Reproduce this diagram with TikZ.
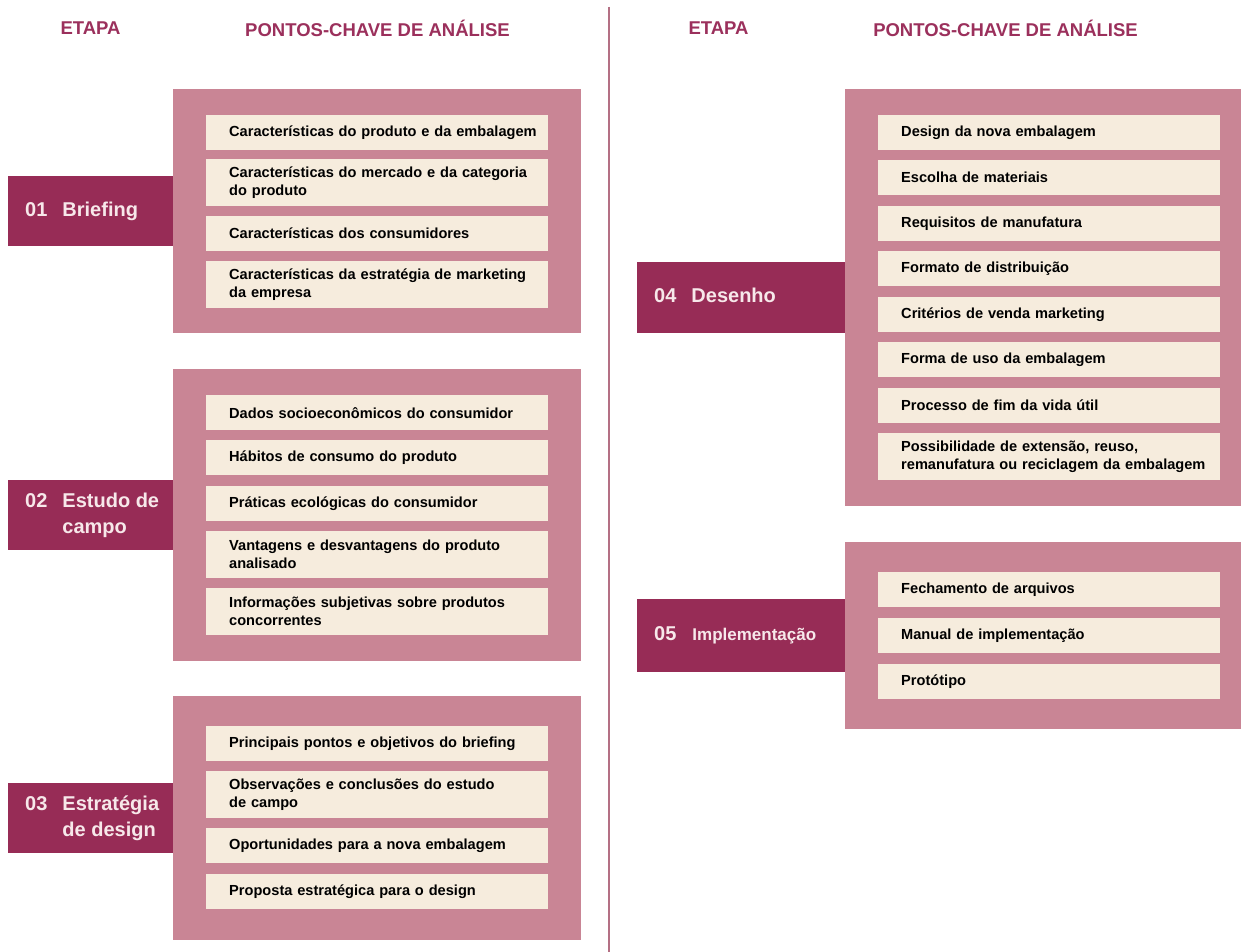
\documentclass[tikz,border=0pt]{standalone}
\usepackage{fontspec}
\setmainfont{Liberation Sans}
\usetikzlibrary{positioning}
\definecolor{vinho}{RGB}{151,44,86}
\definecolor{rosa}{RGB}{201,133,149}
\definecolor{creme}{RGB}{246,236,221}
\definecolor{titulo}{RGB}{155,48,92}
\definecolor{linha}{RGB}{180,112,132}
\definecolor{claro}{RGB}{247,232,234}
\newcommand{\itemfont}{\fontsize{14.6}{18}\selectfont\bfseries}
\newcommand{\etapafont}{\fontsize{20}{26}\selectfont\bfseries}
\tikzset{
  header/.style={text=titulo, font=\fontsize{18.5}{22}\selectfont\bfseries, inner sep=0pt},
  painel/.style={fill=rosa, inner sep=0pt, anchor=north west},
  etapa/.style={fill=vinho, inner sep=0pt, anchor=north west},
  etapatexto/.style={text=claro, font=\etapafont, inner sep=0pt, anchor=west},
  itembox/.style={fill=creme, inner xsep=0pt, inner ysep=0pt, text width=342pt, align=left, anchor=north west, font=\itemfont, execute at begin node={\leftskip=23pt\relax}},
  simples/.style={itembox, minimum height=35pt},
  duplo/.style={itembox, minimum height=47pt}
}
\begin{document}
\begin{tikzpicture}[x=1pt,y=-1pt]
  \useasboundingbox[fill=white] (0,0) rectangle (1241,952);
  % Cabecalhos
  \node[header] (h1) at (90.5,28) {ETAPA};
  \node[header] (h2) at (377.5,28) {PONTOS-CHAVE DE ANÁLISE};
  \node[header] (h3) at (718.5,28) {ETAPA};
  \node[header] (h4) at (1005.5,28) {PONTOS-CHAVE DE ANÁLISE};
  % Divisoria
  \coordinate (topo) at (609,7);
  \coordinate (base) at (609,952);
  \draw[linha, line width=1.2pt] (topo) -- (base);
  % Paineis
  \node[painel, minimum width=408pt, minimum height=244pt] (p1) at (173,89) {};
  \node[painel, minimum width=408pt, minimum height=292pt] (p2) at (173,369) {};
  \node[painel, minimum width=408pt, minimum height=244pt] (p3) at (173,696) {};
  \node[painel, minimum width=396pt, minimum height=417pt] (p4) at (845,89) {};
  \node[painel, minimum width=396pt, minimum height=187pt] (p5) at (845,542) {};
  % Etapas
  \node[etapa, minimum width=165pt, minimum height=70pt] (s1) at (8,176) {};
  \node[etapa, minimum width=165pt, minimum height=70pt] (s2) at (8,480) {};
  \node[etapa, minimum width=165pt, minimum height=70pt] (s3) at (8,783) {};
  \node[etapa, minimum width=208pt, minimum height=71pt] (s4) at (637,262) {};
  \node[etapa, minimum width=208pt, minimum height=73pt] (s5) at (637,599) {};
  \node[etapatexto] (t1) at (25,211) {\begin{tabular}{@{}l@{\hspace{15pt}}l@{}}01 & Briefing\end{tabular}};
  \node[etapatexto] (t2) at (25,515) {\begin{tabular}{@{}l@{\hspace{15pt}}l@{}}02 & Estudo de\\ & campo\end{tabular}};
  \node[etapatexto] (t3) at (25,818) {\begin{tabular}{@{}l@{\hspace{15pt}}l@{}}03 & Estratégia\\ & de design\end{tabular}};
  \node[etapatexto] (t4) at (654,297.5) {\begin{tabular}{@{}l@{\hspace{15pt}}l@{}}04 & Desenho\end{tabular}};
  \node[etapatexto] (t5) at (654,635.5) {\begin{tabular}{@{}l@{\hspace{16pt}}l@{}}05 & {\fontsize{17}{22}\selectfont Implementação}\end{tabular}};
  % Itens 01
  \node[simples] (i11) at (206,115) {Características do produto e da embalagem};
  \node[duplo] (i12) at (206,159) {Características do mercado e da categoria\\do produto};
  \node[simples] (i13) at (206,216) {Características dos consumidores};
  \node[duplo] (i14) at (206,261) {Características da estratégia de marketing\\da empresa};
  % Itens 02
  \node[simples] (i21) at (206,395) {Dados socioeconômicos do consumidor};
  \node[simples] (i22) at (206,440) {Hábitos de consumo do produto};
  \node[simples] (i23) at (206,486) {Práticas ecológicas do consumidor};
  \node[duplo] (i24) at (206,531) {Vantagens e desvantagens do produto\\analisado};
  \node[duplo] (i25) at (206,588) {Informações subjetivas sobre produtos\\concorrentes};
  % Itens 03
  \node[simples] (i31) at (206,726) {Principais pontos e objetivos do briefing};
  \node[duplo] (i32) at (206,771) {Observações e conclusões do estudo\\de campo};
  \node[simples] (i33) at (206,828) {Oportunidades para a nova embalagem};
  \node[simples] (i34) at (206,874) {Proposta estratégica para o design};
  % Itens 04
  \node[simples] (i41) at (878,115) {Design da nova embalagem};
  \node[simples] (i42) at (878,160) {Escolha de materiais};
  \node[simples] (i43) at (878,206) {Requisitos de manufatura};
  \node[simples] (i44) at (878,251) {Formato de distribuição};
  \node[simples] (i45) at (878,297) {Critérios de venda marketing};
  \node[simples] (i46) at (878,342) {Forma de uso da embalagem};
  \node[simples] (i47) at (878,388) {Processo de fim da vida útil};
  \node[duplo] (i48) at (878,433) {Possibilidade de extensão, reuso,\\remanufatura ou reciclagem da embalagem};
  % Itens 05
  \node[simples] (i51) at (878,572) {Fechamento de arquivos};
  \node[simples] (i52) at (878,618) {Manual de implementação};
  \node[simples] (i53) at (878,664) {Protótipo};
\end{tikzpicture}
\end{document}
